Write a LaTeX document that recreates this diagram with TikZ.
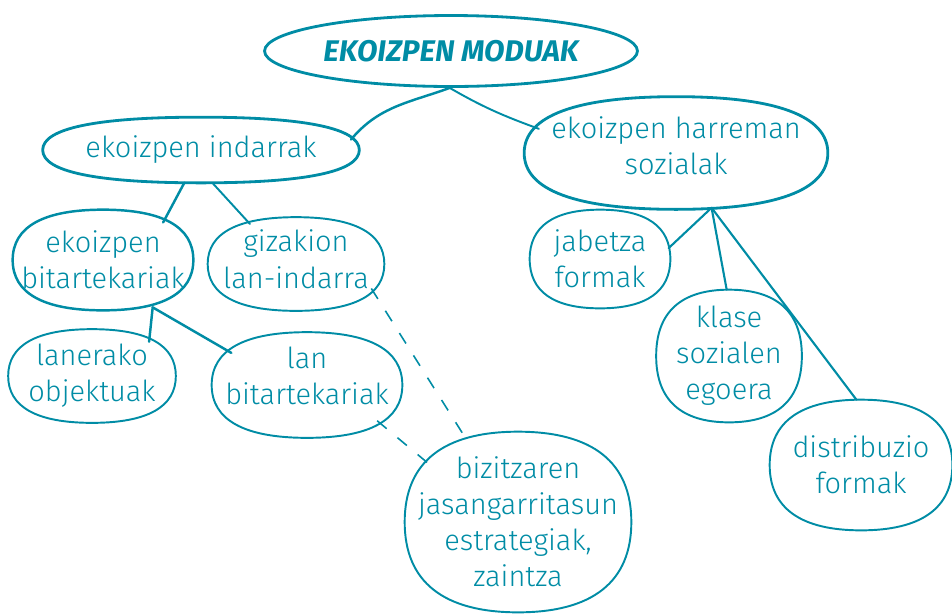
\documentclass[tikz,border=0pt]{standalone}
\usepackage{fontspec}
\setmainfont{Fira Sans Light}[BoldItalicFont={Fira Sans Bold Italic}]
\usepackage{tikz}
\usetikzlibrary{shapes.geometric,calc}
\definecolor{teal}{RGB}{0,140,165}
\def\bk{0.66}
% esku-marrazkiko itxurako obalo bat, nodoaren inguruan
\newcommand{\blob}[2][]{%
  \coordinate (#2-ne) at (#2.north -| #2.east);
  \coordinate (#2-nw) at (#2.north -| #2.west);
  \coordinate (#2-sw) at (#2.south -| #2.west);
  \coordinate (#2-se) at (#2.south -| #2.east);
  \draw[blobline,#1] (#2.east)
    .. controls ($(#2.east)!\bk!(#2-ne)$) and ($(#2.north)!\bk!(#2-ne)$) .. (#2.north)
    .. controls ($(#2.north)!\bk!(#2-nw)$) and ($(#2.west)!\bk!(#2-nw)$) .. (#2.west)
    .. controls ($(#2.west)!\bk!(#2-sw)$) and ($(#2.south)!\bk!(#2-sw)$) .. (#2.south)
    .. controls ($(#2.south)!\bk!(#2-se)$) and ($(#2.east)!\bk!(#2-se)$) .. (#2.east) -- cycle;}

\begin{document}
\begin{tikzpicture}[x=0.02cm,y=-0.02cm,
    bubble/.style={ellipse,inner xsep=-30pt,inner ysep=-20pt,
      text=teal,align=center,font=\fontsize{16.5}{20.5}\selectfont},
    blobline/.style={draw=teal,line width=1.1pt},
    link/.style={draw=teal,line width=1.4pt,line cap=round},
    dashlink/.style={draw=teal,line width=0.9pt,dash pattern=on 7pt off 8pt}]
  \useasboundingbox (0,0) rectangle (952,613);
  % goiko maila
  \node[bubble,draw=teal,line width=1.6pt,minimum width=7.46cm,minimum height=1.42cm,
    font=\fontsize{17}{20}\selectfont\bfseries\itshape] (moduak) at (451,51) {EKOIZPEN MODUAK};
  \node[bubble,minimum width=6.32cm,minimum height=1.3cm] (indar) at (201,150) {ekoizpen indarrak};
  \node[bubble,minimum width=6.06cm,minimum height=2.24cm,text depth=9pt] (harrem) at (676,153) {ekoizpen harreman\\sozialak};
  % ezkerreko adarra
  \node[bubble,minimum width=3.6cm,minimum height=2cm] (bitart) at (103,260) {ekoizpen\\bitartekariak};
  \node[bubble,minimum width=3.52cm,minimum height=1.86cm,text depth=5.6pt] (gizak) at (296,264) {gizakion\\lan-indarra};
  \node[bubble,minimum width=3.34cm,minimum height=1.86cm] (objekt) at (92,376) {lanerako\\objektuak};
  \node[bubble,minimum width=3.8cm,minimum height=2.1cm,text depth=10.2pt] (lanbit) at (307,385) {lan\\bitartekariak};
  \node[bubble,minimum width=4.52cm,minimum height=3.6cm] (bizitz) at (518,522) {bizitzaren\\jasangarritasun\\estrategiak,\\zaintza};
  % eskuineko adarra
  \node[bubble,minimum width=2.8cm,minimum height=1.96cm] (jabetz) at (600,259) {jabetza\\formak};
  \node[bubble,minimum width=2.9cm,minimum height=2.64cm] (klase) at (729,356) {klase\\sozialen\\egoera};
  \node[bubble,minimum width=3.64cm,minimum height=2.6cm,text depth=-4.6pt] (distri) at (861,465) {distribuzio\\formak};
  % obaloak
  \foreach \n in {indar,harrem}
    \blob[line width=1.6pt]{\n};
  \blob[line width=1.4pt]{bitart};
  \foreach \n in {gizak,objekt,lanbit,bizitz,jabetz,klase,distri}
    \blob{\n};
  % loturak
  \coordinate (bitart-bot) at ($(bitart.south)!0.55!(bitart-se) + (0,-3)$);
  \draw[link] (moduak.-92) to[out=200,in=50] (indar.4);
  \draw[link,line width=1.1pt] (moduak.-92) to[out=-30,in=160] (harrem.170);
  \draw[link] (indar.-117) -- (bitart.32);
  \draw[link,line width=1.1pt] (indar.-71) -- (gizak.139);
  \draw[link] (bitart-bot) -- (objekt.31);
  \draw[link] (bitart-bot) -- (lanbit.157);
  \draw[dashlink] (gizak.-18) -- (bizitz.122);
  \draw[dashlink] (lanbit.-27) -- (bizitz.147);
  \draw[link,line width=1.2pt] (harrem.-57) -- (jabetz.9);
  \draw[link,line width=1.2pt] (harrem.-57) -- (klase.92);
  \draw[link,line width=1.2pt] (harrem.-57) -- (distri.94);
\end{tikzpicture}
\end{document}
